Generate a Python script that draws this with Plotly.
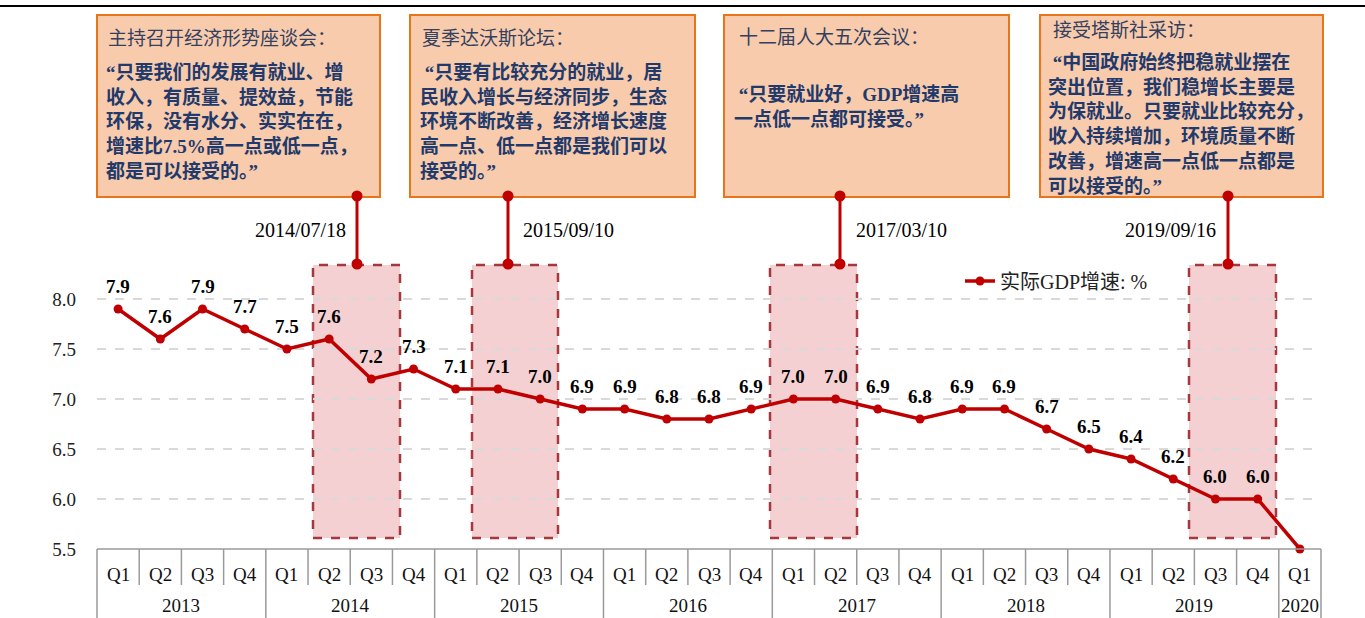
import plotly.graph_objects as go

# ---------------- data ----------------
quarters = ["Q1", "Q2", "Q3", "Q4"] * 7 + ["Q1"]
years = ["2013", "2014", "2015", "2016", "2017", "2018", "2019", "2020"]
year_counts = [4, 4, 4, 4, 4, 4, 4, 1]
gdp = [7.9, 7.6, 7.9, 7.7,
       7.5, 7.6, 7.2, 7.3,
       7.1, 7.1, 7.0, 6.9,
       6.9, 6.8, 6.8, 6.9,
       7.0, 7.0, 6.9, 6.8,
       6.9, 6.9, 6.7, 6.5,
       6.4, 6.2, 6.0, 6.0,
       5.5]
labels = [f"{v:.1f}" for v in gdp[:-1]] + [""]
ytick_vals = [5.5, 6.0, 6.5, 7.0, 7.5, 8.0]
ytick_text = ["5.5", "6.0", "6.5", "7.0", "7.5", "8.0"]
series_name = "实际GDP增速: %"

event_dates = ["2014/07/18", "2015/09/10", "2017/03/10", "2019/09/16"]
event_titles = ["主持召开经济形势座谈会：", "夏季达沃斯论坛：", "十二届人大五次会议：", "接受塔斯社采访："]
event_bodies = [
    "“只要我们的发展有就业、增<br>收入，有质量、提效益，节能<br>环保，没有水分、实实在在，<br>增速比7.5%高一点或低一点，<br>都是可以接受的。”",
    " “只要有比较充分的就业，居<br>民收入增长与经济同步，生态<br>环境不断改善，经济增长速度<br>高一点、低一点都是我们可以<br>接受的。”",
    " “只要就业好，GDP增速高<br>一点低一点都可接受。”",
    " “中国政府始终把稳就业摆在<br>突出位置，我们稳增长主要是<br>为保就业。只要就业比较充分，<br>收入持续增加，环境质量不断<br>改善，增速高一点低一点都是<br>可以接受的。”",
]

# ---------------- layout geometry (pixels) ----------------
W, H = 1365, 618
L, R, B, T = 97, 1321, 549, 0


def px(x):
    return (x - L) / (R - L)


def py(y):
    return (B - y) / (B - T)


serif = "Liberation Serif, Times New Roman, Noto Sans CJK SC, serif"
cjk = "Liberation Serif, Noto Sans CJK SC, serif"
red = "#C00000"

xs = list(range(len(gdp)))
n = len(gdp)
cw = (R - L) / n  # category width in px


def cx(i):
    return L + (i + 0.5) * cw


fig = go.Figure()
fig.add_trace(go.Scatter(
    x=xs, y=gdp, mode="lines+markers", name=series_name,
    line=dict(color=red, width=3.5), marker=dict(color=red, size=9),
    cliponaxis=False,
))

shapes = []
annotations = []

# value labels above the points
for xi, v, lab in zip(xs, gdp, labels):
    if lab:
        annotations.append(dict(xref="x", yref="y", x=xi, y=v, text="<b>" + lab + "</b>", showarrow=False,
                                xanchor="center", yanchor="middle", yshift=23,
                                font=dict(family=serif, size=19, color="#000000")))

# top black rule
shapes.append(dict(type="line", xref="paper", yref="paper", x0=px(0), x1=px(W), y0=py(6), y1=py(6),
                   line=dict(color="#000000", width=2)))

# shaded event windows (pixel placement)
windows_px = [(313, 400), (472, 558), (770, 857), (1189, 1276)]
conn_px = [357, 508, 840, 1228]
boxes_px = [(97, 380), (410, 695), (724, 1009), (1040, 1323)]
title_pos = [(106, 38), (420, 38), (737, 37), (1051, 31)]
body_pos = [(104, 59), (418, 59), (732, 81), (1046, 49)]
date_pos = [(348, 230, "right"), (521, 230, "left"), (854, 230, "left"), (1218, 230, "right")]

for (a, b) in windows_px:
    shapes.append(dict(type="rect", xref="paper", yref="paper", x0=px(a), x1=px(b), y0=py(538), y1=py(265),
                       fillcolor="rgba(235,170,175,0.55)", line=dict(color="#A5373D", width=2.5, dash="dash"),
                       layer="below"))

for (a, b) in boxes_px:
    shapes.append(dict(type="rect", xref="paper", yref="paper", x0=px(a), x1=px(b), y0=py(197), y1=py(15),
                       fillcolor="#F8CBAD", line=dict(color="#E8751A", width=2), layer="below"))

for c in conn_px:
    shapes.append(dict(type="line", xref="paper", yref="paper", x0=px(c), x1=px(c), y0=py(196), y1=py(264),
                       line=dict(color=red, width=3)))
    for yy in (196, 264):
        shapes.append(dict(type="circle", xref="paper", yref="paper", x0=px(c - 5.5), x1=px(c + 5.5),
                           y0=py(yy + 5.5), y1=py(yy - 5.5), fillcolor=red, line=dict(color=red, width=0)))

for i, (t, bdy) in enumerate(zip(event_titles, event_bodies)):
    tx, ty = title_pos[i]
    annotations.append(dict(xref="paper", yref="paper", x=px(tx), y=py(ty), xanchor="left", yanchor="middle",
                            text=t, showarrow=False, align="left",
                            font=dict(family=cjk, size=19, color="#33405E")))
    bx, by = body_pos[i]
    annotations.append(dict(xref="paper", yref="paper", x=px(bx), y=py(by), xanchor="left", yanchor="top",
                            text="<b>" + bdy + "</b>", showarrow=False, align="left",
                            font=dict(family=cjk, size=19, color="#1F3A6B")))

for d, (dx, dy, anc) in zip(event_dates, date_pos):
    annotations.append(dict(xref="paper", yref="paper", x=px(dx), y=py(dy), xanchor=anc, yanchor="middle",
                            text=d, showarrow=False, font=dict(family=serif, size=20, color="#000000")))

# category table below the axis
grey = "#9A9A9A"
shapes.append(dict(type="line", xref="paper", yref="paper", x0=0, x1=1, y0=0, y1=0,
                   line=dict(color=grey, width=1.5)))
year_bounds = [0]
for c in year_counts:
    year_bounds.append(year_bounds[-1] + c)
for k in range(n + 1):
    xb = L + k * cw
    bottom = H if k in year_bounds else 585
    shapes.append(dict(type="line", xref="paper", yref="paper", x0=px(xb), x1=px(xb), y0=0, y1=py(bottom),
                       line=dict(color=grey, width=1.5)))
for i, q in enumerate(quarters):
    annotations.append(dict(xref="paper", yref="paper", x=px(cx(i)), y=py(574), xanchor="center", yanchor="middle",
                            text=q, showarrow=False, font=dict(family=serif, size=19, color="#111111")))
for j, yname in enumerate(years):
    mid = L + (year_bounds[j] + year_bounds[j + 1]) / 2 * cw
    annotations.append(dict(xref="paper", yref="paper", x=px(mid), y=py(606), xanchor="center", yanchor="middle",
                            text=yname, showarrow=False, font=dict(family=serif, size=19, color="#111111")))

fig.update_layout(
    width=W, height=H,
    margin=dict(l=L, r=W - R, t=T, b=H - B, autoexpand=False),
    paper_bgcolor="white", plot_bgcolor="white",
    shapes=shapes, annotations=annotations,
    showlegend=True,
    legend=dict(x=px(960), y=py(281), xanchor="left", yanchor="middle", bgcolor="rgba(0,0,0,0)",
                font=dict(family=cjk, size=20, color="#222222")),
    xaxis=dict(range=[-0.5, n - 0.5], showgrid=False, showticklabels=False, zeroline=False, showline=False,
               fixedrange=True),
    yaxis=dict(range=[5.5, 5.5 + (B - T) / 100.0], tickvals=ytick_vals, ticktext=ytick_text,
               showgrid=True, gridcolor="#D9D9D9", gridwidth=1.5, griddash="dash",
               zeroline=False, showline=False, ticks="", ticklabelstandoff=20,
               tickfont=dict(family=serif, size=19, color="#222222")),
)

fig.write_html("out.html", config={"displayModeBar": False},
               post_script="document.body.style.margin='0';document.body.style.overflow='hidden';")
